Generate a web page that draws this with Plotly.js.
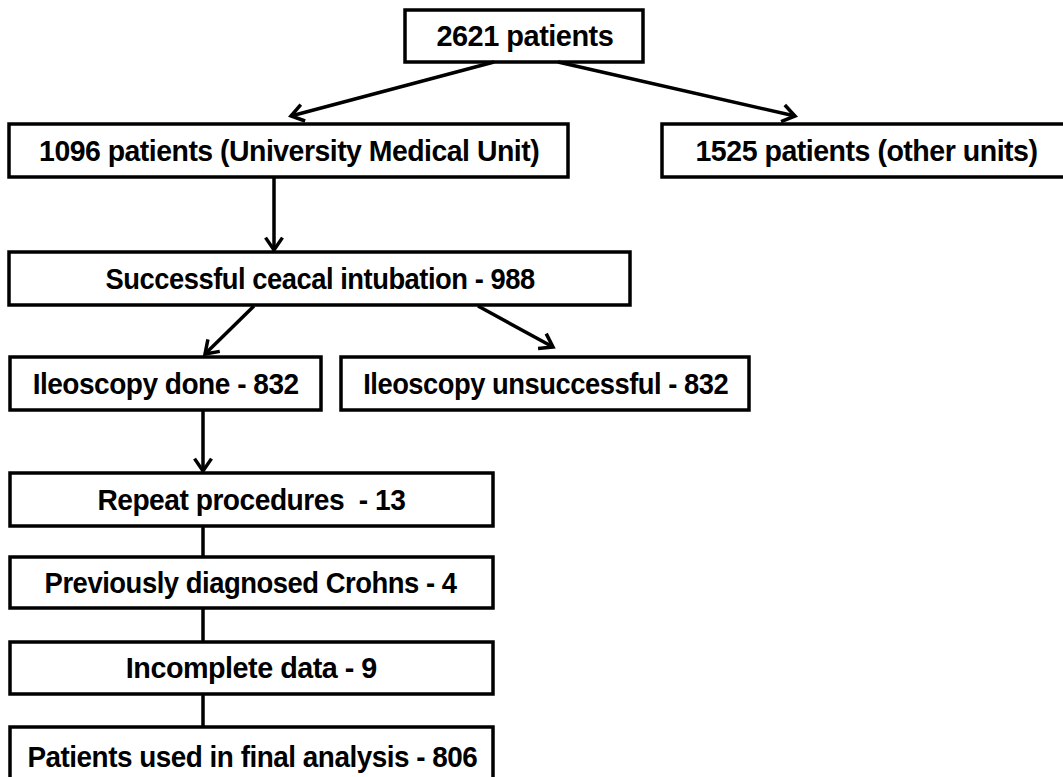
<!DOCTYPE html>
<html><head><meta charset="utf-8">
<script src="https://cdn.plot.ly/plotly-3.0.1.min.js"></script>
<style>html,body{margin:0;padding:0;background:#fff}#chart{width:1063px;height:777px}</style>
</head><body><div id="chart"></div>
<script>
// Node labels (flow of patients)
const labels = [
  "2621 patients",
  "1096 patients (University Medical Unit)",
  "1525 patients (other units)",
  "Successful ceacal intubation - 988",
  "Ileoscopy done - 832",
  "Ileoscopy unsuccessful - 832",
  "Repeat procedures  - 13",
  "Previously diagnosed Crohns - 4",
  "Incomplete data - 9",
  "Patients used in final analysis - 806"
];
// Box layout (x0, x1, y0, y1) in pixel-like axis units
const boxX0 = [405, 9, 662, 9, 10, 341, 10, 10, 10, 10];
const boxX1 = [643, 568, 1070, 630, 321, 749, 493, 493, 493, 493];
const boxY0 = [10, 124, 124, 252, 357, 357, 473, 557, 642, 727];
const boxY1 = [62, 177, 177, 305, 410, 410, 526, 608, 694, 786];
// Rendered text widths (condensed type style)
const textW = [177, 500, 342, 429, 266, 365, 308, 412, 251, 450];
// Text centre positions (x) for each label
const textX = [525, 289, 866, 320, 165, 545, 251, 250, 251, 252];
// Connectors: [x0, y0, x1, y1, hasHead]
const links = [
  [494, 62, 291, 116, 1],
  [558, 62, 795, 116, 1],
  [274, 177, 274, 250, 1],
  [254, 306, 205, 354, 1],
  [478, 306, 553, 347, 1],
  [203, 410, 203, 471, 1],
  [203, 526, 203, 557, 0],
  [203, 608, 203, 642, 0],
  [203, 694, 203, 727, 0]
];

const shapes = [];
const annotations = [];
const FONT = "'Liberation Sans Narrow', 'Arial Narrow', 'Liberation Sans', Arial, sans-serif";
for (let i = 0; i < labels.length; i++) {
  shapes.push({type:'rect', xref:'x', yref:'y', x0:boxX0[i], x1:boxX1[i], y0:boxY0[i], y1:boxY1[i],
    line:{color:'#000', width:3.5}, fillcolor:'#fff', layer:'above'});
  annotations.push({xref:'x', yref:'y', x:textX[i], y:(boxY0[i]+boxY1[i])/2,
    text:'<b>'+labels[i]+'</b>', showarrow:false, xanchor:'center', yanchor:'middle',
    font:{family:FONT, size:29, color:'#000'}});
}
for (const [x0,y0,x1,y1,h] of links) {
  shapes.push({type:'line', xref:'x', yref:'y', x0, y0, x1, y1, line:{color:'#000', width:3.5}});
  if (h) {
    const ang = Math.atan2(y1-y0, x1-x0);
    const L = 15, a = 0.6;
    const p1x = x1 - L*Math.cos(ang - a), p1y = y1 - L*Math.sin(ang - a);
    const p2x = x1 - L*Math.cos(ang + a), p2y = y1 - L*Math.sin(ang + a);
    shapes.push({type:'path', xref:'x', yref:'y',
      path:`M ${p1x} ${p1y} L ${x1} ${y1} L ${p2x} ${p2y}`,
      line:{color:'#000', width:3.5}});
  }
}

Plotly.newPlot('chart', [], {
  width:1063, height:777,
  margin:{l:0, r:0, t:0, b:0},
  paper_bgcolor:'#fff', plot_bgcolor:'#fff',
  xaxis:{range:[0,1063], visible:false, fixedrange:true},
  yaxis:{range:[777,0], visible:false, fixedrange:true},
  showlegend:false,
  shapes, annotations
}, {staticPlot:true}).then(function(gd){
  // condense the glyphs horizontally to match the narrow type of the original
  const texts = gd.querySelectorAll('.annotation-text');
  texts.forEach(function(t, i){
    if (textW[i]) {
      t.setAttribute('textLength', textW[i]);
      t.setAttribute('lengthAdjust', 'spacingAndGlyphs');
      t.style.letterSpacing = '-0.5px';
    }
  });
});
</script></body></html>
